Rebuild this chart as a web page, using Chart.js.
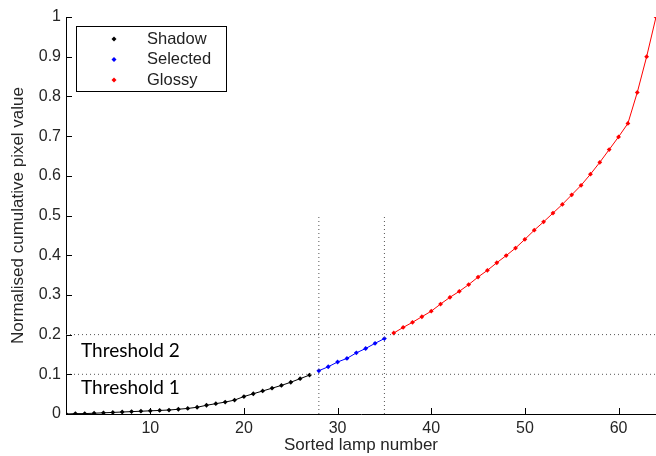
<!DOCTYPE html>
<html>
<head>
<meta charset="utf-8">
<script src="https://cdn.jsdelivr.net/npm/chart.js@4/dist/chart.umd.min.js"></script>
<style>
  html, body { margin: 0; padding: 0; background: #fff; }
  #wrap { width: 656px; height: 456px; }
</style>
</head>
<body>
<div id="wrap"><canvas id="lampChart"></canvas></div>
<script>
// lamp numbers per group
const shadowX = [1,2,3,4,5,6,7,8,9,10,11,12,13,14,15,16,17,18,19,20,21,22,23,24,25,26,27];
const selectedX = [28,29,30,31,32,33,34,35];
const glossyX = [36,37,38,39,40,41,42,43,44,45,46,47,48,49,50,51,52,53,54,55,56,57,58,59,60,61,62,63,64];

// normalised cumulative pixel values
const shadowY = [0.000,0.001,0.001,0.002,0.003,0.004,0.005,0.006,0.007,0.008,0.009,0.010,0.012,0.014,0.017,0.022,0.026,0.030,0.035,0.044,0.051,0.058,0.065,0.072,0.080,0.089,0.098];
const selectedY = [0.109,0.119,0.131,0.140,0.154,0.165,0.178,0.190];
const glossyY = [0.204,0.218,0.231,0.245,0.259,0.277,0.294,0.309,0.326,0.345,0.362,0.381,0.399,0.418,0.440,0.463,0.484,0.506,0.528,0.552,0.576,0.604,0.634,0.666,0.698,0.732,0.810,0.900,1.000];

// dotted guide lines
const thresholdLevels = [0.1, 0.2];
const cutLamps = [28, 35];
const cutTop = 0.5;

const xTicks = [10,20,30,40,50,60];
const yTicks = [0,0.1,0.2,0.3,0.4,0.5,0.6,0.7,0.8,0.9,1];
const xRange = [1, 64];

function pts(xs, ys) {
  return xs.map((x, i) => ({x: x, y: ys[i]}));
}

const FONT = 'Liberation Sans, Arial, sans-serif';

const series = [
  {label: 'Shadow', xs: shadowX, ys: shadowY, color: '#000000'},
  {label: 'Selected', xs: selectedX, ys: selectedY, color: '#0000ff'},
  {label: 'Glossy', xs: glossyX, ys: glossyY, color: '#ff0000'}
];

const datasets = [];
thresholdLevels.forEach(v => {
  datasets.push({
    data: [{x: xRange[0], y: v}, {x: xRange[1], y: v}],
    borderColor: '#555', borderWidth: 1, borderDash: [1, 3],
    pointRadius: 0
  });
});
cutLamps.forEach(c => {
  datasets.push({
    data: [{x: c, y: 0}, {x: c, y: cutTop}],
    borderColor: '#555', borderWidth: 1, borderDash: [1, 3],
    pointRadius: 0
  });
});
series.forEach(s => {
  datasets.push({
    label: s.label,
    data: pts(s.xs, s.ys),
    borderColor: s.color,
    backgroundColor: s.color,
    borderWidth: 1,
    pointStyle: 'rectRot',
    pointRadius: 2.4,
    pointBorderWidth: 0
  });
});

// MATLAB style inward ticks, legend box and threshold notes
const extras = {
  id: 'extras',
  afterDraw(chart) {
    const ctx = chart.ctx;
    const xs = chart.scales.x, ys = chart.scales.y;
    const area = chart.chartArea;
    ctx.save();
    ctx.strokeStyle = '#000';
    ctx.lineWidth = 1;
    ctx.beginPath();
    yTicks.forEach(v => {
      const py = Math.round(ys.getPixelForValue(v)) + 0.5;
      ctx.moveTo(area.left, py);
      ctx.lineTo(area.left + 6, py);
    });
    xTicks.forEach(v => {
      const px = Math.round(xs.getPixelForValue(v)) + 0.5;
      ctx.moveTo(px, area.bottom);
      ctx.lineTo(px, area.bottom - 6);
    });
    ctx.stroke();

    // threshold notes
    ctx.fillStyle = '#000';
    ctx.font = '19px Lato, "Open Sans", sans-serif';
    ctx.textBaseline = 'middle';
    ctx.textAlign = 'left';
    ctx.fillText('Threshold 2', 81, ys.getPixelForValue(0.16));
    ctx.fillText('Threshold 1', 81, ys.getPixelForValue(0.066));

    // legend
    const bx = area.left + 10, by = area.top + 9;
    ctx.fillStyle = '#fff';
    ctx.fillRect(bx, by, 150, 65);
    ctx.strokeRect(bx + 0.5, by + 0.5, 150, 65);
    ctx.font = '16.5px ' + FONT;
    series.forEach((s, i) => {
      const ry = by + 13 + i * 20.5;
      ctx.fillStyle = s.color;
      ctx.beginPath();
      ctx.moveTo(bx + 38, ry - 2.5);
      ctx.lineTo(bx + 40.5, ry);
      ctx.lineTo(bx + 38, ry + 2.5);
      ctx.lineTo(bx + 35.5, ry);
      ctx.closePath();
      ctx.fill();
      ctx.fillStyle = '#222';
      ctx.fillText(s.label, bx + 71, ry);
    });
    ctx.restore();
  }
};

const ctx = document.getElementById('lampChart').getContext('2d');
new Chart(ctx, {
  type: 'line',
  data: {datasets: datasets},
  plugins: [extras],
  options: {
    responsive: true,
    maintainAspectRatio: false,
    animation: false,
    events: [],
    layout: {autoPadding: false, padding: {top: 17, right: 0, left: 0, bottom: 0}},
    plugins: {
      legend: {display: false},
      tooltip: {enabled: false}
    },
    scales: {
      x: {
        type: 'linear',
        min: xRange[0],
        max: xRange[1],
        afterBuildTicks: axis => { axis.ticks = xTicks.map(v => ({value: v})); },
        afterFit: axis => { axis.height = 42; axis.paddingLeft = 0; axis.paddingRight = 0; },
        grid: {drawOnChartArea: false, drawTicks: false},
        border: {color: '#000', width: 1},
        ticks: {color: '#262626', padding: 5, font: {family: FONT, size: 16}, maxRotation: 0,
                callback: v => String(v)},
        title: {display: true, text: 'Sorted lamp number', color: '#262626',
                font: {family: FONT, size: 17}, padding: {top: 0, bottom: 0}}
      },
      y: {
        type: 'linear',
        min: 0,
        max: 1,
        afterBuildTicks: axis => { axis.ticks = yTicks.map(v => ({value: v})); },
        afterFit: axis => { axis.width = 66; },
        grid: {drawOnChartArea: false, drawTicks: false},
        border: {color: '#000', width: 1},
        ticks: {color: '#262626', padding: 5, font: {family: FONT, size: 16},
                callback: v => String(Math.round(v * 10) / 10)},
        title: {display: true, text: 'Normalised cumulative pixel value', color: '#262626',
                font: {family: FONT, size: 17}, padding: {top: 8, bottom: 0}}
      }
    }
  }
});
</script>
</body>
</html>
